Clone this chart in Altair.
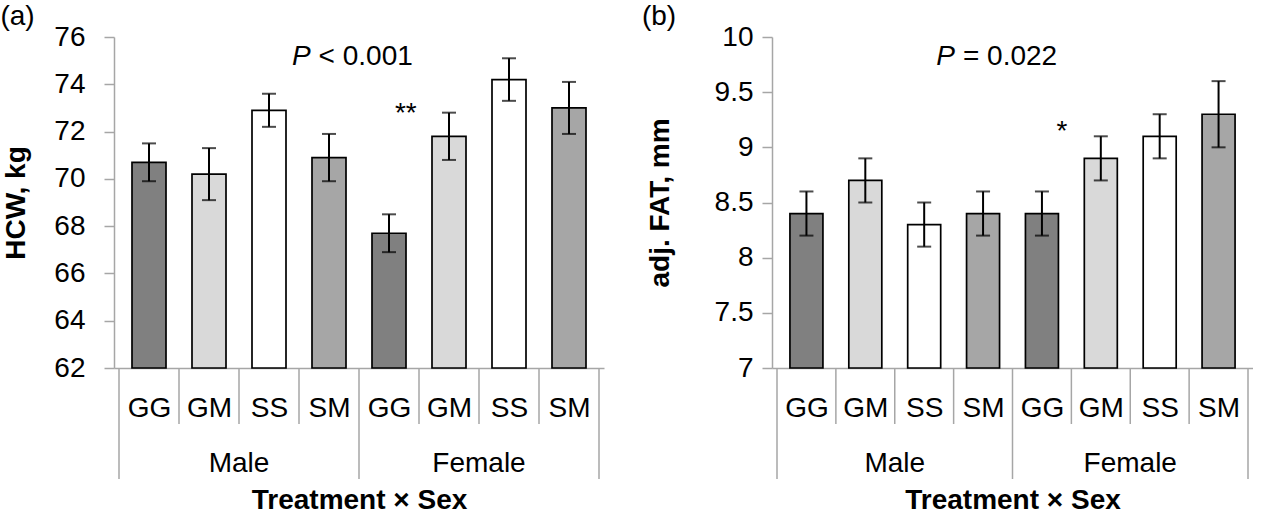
import json
import altair as alt
import pandas as pd

# ---------------- data ----------------
treatments = ["GG", "GM", "SS", "SM"]
sexes = ["Male", "Female"]
bar_colors = ["#808080", "#d9d9d9", "#ffffff", "#a6a6a6"]

hcw_mean = [70.7, 70.2, 72.9, 70.9, 67.7, 71.8, 74.2, 73.0]
hcw_err = [0.8, 1.1, 0.7, 1.0, 0.8, 1.0, 0.9, 1.1]
hcw_ticks = [62, 64, 66, 68, 70, 72, 74, 76]

fat_mean = [8.4, 8.7, 8.3, 8.4, 8.4, 8.9, 9.1, 9.3]
fat_err = [0.2, 0.2, 0.2, 0.2, 0.2, 0.2, 0.2, 0.3]
fat_ticks = [7, 7.5, 8, 8.5, 9, 9.5, 10]

# annotations (data coordinates)
hcw_p = {"x": 3.26, "y": 74.81, "p": "P", "rest": "< 0.001"}
fat_p = {"x": 3.09, "y": 9.75, "p": "P", "rest": "= 0.022"}
hcw_star = {"x": 4.78, "y": 72.4, "t": "**"}
fat_star = {"x": 4.84, "y": 9.07, "t": "*"}

FONT = "Liberation Sans"
AXIS_GRAY = "#a6a6a6"
FS = 28
H = 331


def panel(means, errs, ticks, ytitle, width, bar_size, label_pad, title_pad,
          ptxt, star, tag, tag_x):
    rows = []
    for i, (m, e) in enumerate(zip(means, errs)):
        rows.append({
            "pos": i + 0.5,
            "trt": treatments[i % 4],
            "sex": sexes[i // 4],
            "mean": m,
            "lo": round(m - e, 3),
            "hi": round(m + e, 3),
        })
    df = pd.DataFrame(rows)
    ymin, ymax = ticks[0], ticks[-1]

    xscale = alt.Scale(domain=[0, 8], nice=False, zero=False)
    yscale = alt.Scale(domain=[ymin, ymax], nice=False, zero=False)

    label_expr = "%s[floor(datum.value) %% 4]" % json.dumps(treatments)
    xaxis = alt.Axis(
        values=[i + 0.5 for i in range(8)], labelExpr=label_expr,
        ticks=False, grid=False, labelFlush=False, labelOverlap=False,
        domainColor=AXIS_GRAY, domainWidth=1.5,
        labelFontSize=FS, labelColor="black", labelFont=FONT, labelPadding=26,
        title="Treatment \u00d7 Sex", titleFontSize=28, titleFont=FONT,
        titleFontWeight="bold", titleColor="black", titlePadding=64,
    )
    yaxis = alt.Axis(
        values=ticks, format="~g", grid=False,
        domainColor=AXIS_GRAY, domainWidth=1.5, tickColor=AXIS_GRAY,
        tickWidth=1.5, tickSize=10,
        labelFontSize=FS, labelColor="black", labelFont=FONT,
        labelPadding=label_pad,
        title=ytitle, titleFontSize=28, titleFont=FONT, titleFontWeight="bold",
        titleColor="black", titlePadding=title_pad,
    )

    base = alt.Chart(df)
    bars = base.mark_bar(size=bar_size, stroke="black", strokeWidth=1.7).encode(
        x=alt.X("pos:Q", scale=xscale, axis=xaxis),
        y=alt.Y("mean:Q", scale=yscale, axis=yaxis),
        y2=alt.Y2(datum=ymin),
        fill=alt.Fill("trt:N", scale=alt.Scale(domain=treatments, range=bar_colors),
                      legend=None),
    )
    err = base.mark_rule(color="black", strokeWidth=2).encode(
        x="pos:Q", y="lo:Q", y2="hi:Q")
    caps = base.transform_fold(["lo", "hi"], as_=["k", "v"]).mark_tick(
        color="black", thickness=2, size=14, orient="horizontal").encode(
        x="pos:Q", y="v:Q")

    sep = pd.DataFrame({"b": list(range(9))})
    sep["long"] = sep["b"] % 4 == 0
    short_sep = alt.Chart(sep[~sep["long"]]).mark_rule(
        color=AXIS_GRAY, strokeWidth=1.5).encode(
        x="b:Q", y=alt.value(H), y2=alt.value(H + 56))
    long_sep = alt.Chart(sep[sep["long"]]).mark_rule(
        color=AXIS_GRAY, strokeWidth=1.5).encode(
        x="b:Q", y=alt.value(H), y2=alt.value(H + 111))

    sex_df = pd.DataFrame({"sex": sexes, "c": [2, 6]})
    sex_txt = alt.Chart(sex_df).mark_text(
        fontSize=FS, font=FONT, color="black", baseline="middle").encode(
        x="c:Q", y=alt.value(H + 96), text="sex:N")

    pdf = pd.DataFrame([ptxt])
    p_it = alt.Chart(pdf).mark_text(
        fontSize=FS, font=FONT, fontStyle="italic", align="right", dx=-4,
        baseline="alphabetic", color="black").encode(
        x="x:Q", y="y:Q", text="p:N")
    p_rest = alt.Chart(pdf).mark_text(
        fontSize=FS, font=FONT, align="left", dx=4,
        baseline="alphabetic", color="black").encode(
        x="x:Q", y="y:Q", text="rest:N")

    star_t = alt.Chart(pd.DataFrame([star])).mark_text(
        fontSize=FS, font=FONT, baseline="alphabetic", color="black").encode(
        x="x:Q", y="y:Q", text="t:N")

    tag_t = alt.Chart(pd.DataFrame({"t": [tag]})).mark_text(
        fontSize=28, font=FONT, baseline="alphabetic", color="black").encode(
        x=alt.value(tag_x), y=alt.value(-11.7), text="t:N")

    return alt.layer(short_sep, long_sep, bars, err, caps, sex_txt,
                     p_it, p_rest, star_t, tag_t).properties(width=width, height=H)


pa = panel(hcw_mean, hcw_err, hcw_ticks, "HCW, kg", 490, 34, 19, 23,
           hcw_p, hcw_star, "(a)", -96.5)
pb = panel(fat_mean, fat_err, fat_ticks, "adj. FAT, mm", 481, 33, 9, 40,
           fat_p, fat_star, "(b)", -113)

chart = alt.hconcat(pa, pb, spacing=37).properties(
    padding={"left": 0, "top": 3, "right": 0, "bottom": 0}
).configure(font=FONT, background="white").configure_view(
    strokeWidth=0, stroke="transparent")

chart.save("out.html", embed_options={"renderer": "svg", "actions": False})
